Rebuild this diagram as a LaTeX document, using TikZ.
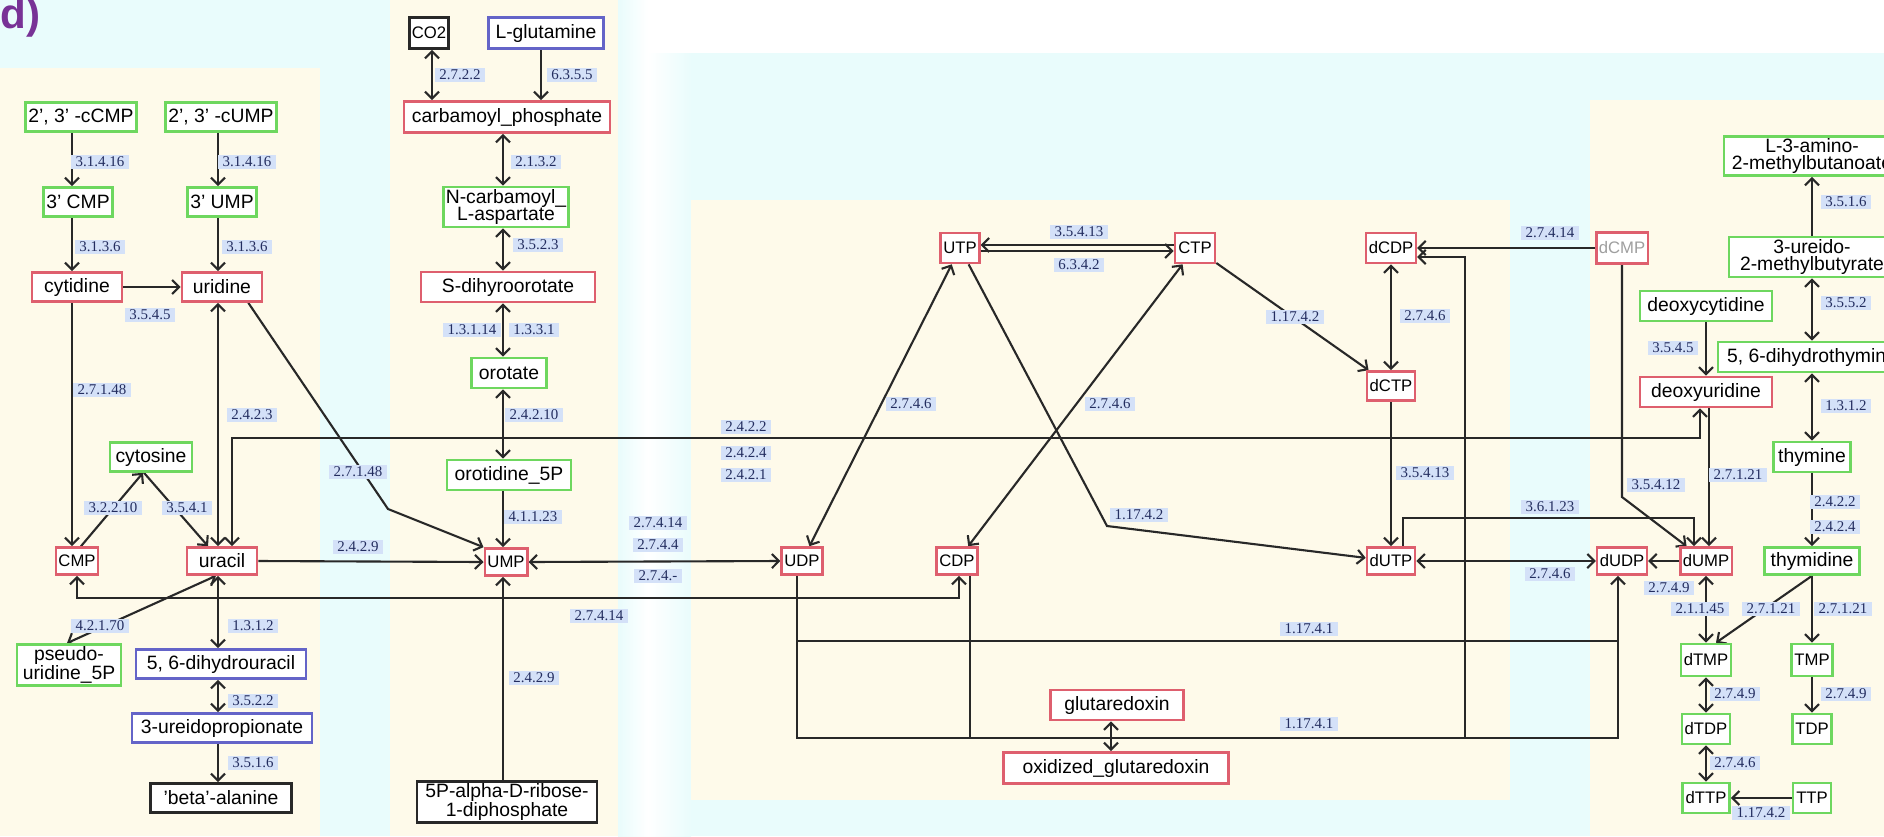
\documentclass[tikz,border=0pt]{standalone}
\usepackage{fontspec}
\setmainfont{Liberation Serif}
\setsansfont{Liberation Sans}
\usetikzlibrary{arrows.meta,calc}
\definecolor{cyanbg}{RGB}{233,252,252}
\definecolor{creambg}{RGB}{254,250,234}
\definecolor{redb}{RGB}{222,95,110}
\definecolor{greenb}{RGB}{110,215,95}
\definecolor{blueb}{RGB}{100,100,200}
\definecolor{blackb}{RGB}{40,40,40}
\definecolor{labbg}{RGB}{212,225,248}
\definecolor{labtx}{RGB}{35,45,95}
\definecolor{edgec}{RGB}{40,40,40}
\definecolor{titlec}{RGB}{120,50,150}
\pgfdeclarelayer{back}
\pgfdeclarelayer{edges}
\pgfsetlayers{back,edges,main}
\newcommand\eclab[3]{\node[lab] (#1) at (#2) {#3};}
\begin{document}
\begin{tikzpicture}[x=0.02cm,y=-0.02cm,
  nd/.style={draw, line width=1.5pt, fill=white, font=\sffamily\fontsize{11}{10}\selectfont, inner xsep=1.5pt, inner ysep=1pt, minimum height=0.58cm, align=center},
  sm/.style={font=\sffamily\fontsize{9.5}{10}\selectfont},
  rbox/.style={nd, draw=redb},
  gbox/.style={nd, draw=greenb},
  bbox/.style={nd, draw=blueb},
  kbox/.style={nd, draw=blackb},
  wd/.style={minimum width=#1*0.02cm},
  ht/.style={minimum height=#1*0.02cm},
  lab/.style={fill=labbg, text=labtx, font=\rmfamily\fontsize{8.5}{9}\selectfont, inner xsep=2.5pt, inner ysep=1pt, text height=5.8pt, text depth=0.3pt},
  ln/.style={draw=edgec, line width=1.2pt},
  arr/.style={ln, -{Straight Barb[length=4pt,width=8pt]}},
  barr/.style={ln, {Straight Barb[length=4pt,width=8pt]}-{Straight Barb[length=4pt,width=8pt]}},
]
\useasboundingbox (0,0) rectangle (1884,836);
\clip (0,0) rectangle (1884,836);
\begin{pgfonlayer}{back}
\fill[cyanbg] (0,0) rectangle (1884,836);
\shade[left color=cyanbg,right color=white] (618,0) rectangle (648,836);
\shade[left color=white,right color=cyanbg] (648,0) rectangle (691,836);
\fill[white] (648,0) rectangle (1884,53);
\fill[creambg] (0,68) rectangle (320,836);
\fill[creambg] (390,0) rectangle (618,836);
\fill[creambg] (691,200) rectangle (1510,800);
\fill[creambg] (1590,100) rectangle (1884,836);
\end{pgfonlayer}

\node[font=\sffamily\bfseries\fontsize{24}{24}\selectfont, text=titlec, anchor=base west, inner sep=0] (title) at (0,28) {d)};

% left panel
\node[gbox,wd=96] (cCMP) at (81,117) {2', 3' -cCMP};
\node[gbox,wd=105] (cUMP) at (221,117) {2', 3' -cUMP};
\node[gbox,wd=58] (CMP3) at (78,202) {3' CMP};
\node[gbox,wd=60] (UMP3) at (222,202) {3' UMP};
\node[rbox,wd=90] (cytidine) at (77,287) {cytidine};
\node[rbox,wd=80] (uridine) at (222,287) {uridine};
\node[gbox,wd=82] (cytosine) at (151,457) {cytosine};
\node[rbox,sm,wd=40,ht=27] (CMP) at (77,561) {CMP};
\node[rbox,wd=70,ht=27] (uracil) at (222,561) {uracil};
\node[gbox,wd=104,ht=39] (pseudo) at (69,665) {pseudo-\\uridine\_5P};
\node[bbox,wd=170] (dihydrouracil) at (221,664) {5, 6-dihydrouracil};
\node[bbox,wd=180] (ureidoprop) at (222,728) {3-ureidopropionate};
\node[kbox,wd=141] (betaala) at (221,798) {'beta'-alanine};

% middle column
\node[kbox,sm,wd=39,ht=31] (CO2) at (429,33) {CO2};
\node[bbox,wd=115,ht=31] (glutamine) at (546,33) {L-glutamine};
\node[rbox,wd=206,ht=31] (carbp) at (507,117) {carbamoyl\_phosphate};
\node[gbox,wd=123,ht=40] (ncarb) at (506,207) {N-carbamoyl\_\\L-aspartate};
\node[rbox,wd=174,ht=30] (sdihy) at (508,287) {S-dihyroorotate};
\node[gbox,wd=75,ht=30] (orotate) at (509,373) {orotate};
\node[gbox,wd=124,ht=30] (orotidine) at (509,475) {orotidine\_5P};
\node[rbox,sm,wd=40,ht=27] (UMP) at (506,562) {UMP};
\node[kbox,wd=180,ht=38] (prpp) at (507,802) {5P-alpha-D-ribose-\\1-diphosphate};

% central panel
\node[rbox,sm,wd=38,ht=30] (UTP) at (960,248) {UTP};
\node[rbox,sm,wd=40,ht=30] (CTP) at (1195,248) {CTP};
\node[rbox,sm,wd=40,ht=27] (UDP) at (802,561) {UDP};
\node[rbox,sm,wd=39,ht=27] (CDP) at (957,561) {CDP};
\node[rbox,sm,wd=48,ht=30] (dCDP) at (1391,248) {dCDP};
\node[rbox,sm,wd=46,ht=29] (dCTP) at (1391,386) {dCTP};
\node[rbox,sm,wd=48,ht=27] (dUTP) at (1391,561) {dUTP};
\node[rbox,wd=133,ht=30] (glut) at (1117,705) {glutaredoxin};
\node[rbox,wd=225,ht=31] (oxglut) at (1116,768) {oxidized\_glutaredoxin};
\node[rbox,sm,wd=49,ht=31,text=gray!75] (dCMP) at (1622,248) {dCMP};
\node[rbox,sm,wd=48,ht=27] (dUDP) at (1622,561) {dUDP};
\node[rbox,sm,wd=47,ht=27] (dUMP) at (1706,561) {dUMP};
\node[gbox,wd=132,ht=30] (deoxycytidine) at (1706,306) {deoxycytidine};
\node[rbox,wd=132,ht=30] (deoxyuridine) at (1706,392) {deoxyuridine};

% right panel
\node[gbox,wd=176,ht=38] (L3amino) at (1812,156) {L-3-amino-\\2-methylbutanoate};
\node[gbox,wd=166,ht=40] (ureido2) at (1812,257) {3-ureido-\\2-methylbutyrate};
\node[gbox,wd=188,ht=30] (dhthym) at (1812,357) {5, 6-dihydrothymine};
\node[gbox,wd=77,ht=30] (thymine) at (1812,457) {thymine};
\node[gbox,wd=95,ht=27] (thymidine) at (1812,561) {thymidine};
\node[gbox,sm,wd=47,ht=32] (dTMP) at (1706,660) {dTMP};
\node[gbox,sm,wd=38,ht=32] (TMP) at (1812,660) {TMP};
\node[gbox,sm,wd=47,ht=30] (dTDP) at (1706,729) {dTDP};
\node[gbox,sm,wd=38,ht=30] (TDP) at (1812,729) {TDP};
\node[gbox,sm,wd=47,ht=30] (dTTP) at (1706,798) {dTTP};
\node[gbox,sm,wd=38,ht=30] (TTP) at (1812,798) {TTP};

\begin{pgfonlayer}{edges}
\coordinate (colA) at (72,0);
\coordinate (colB) at (218,0);
\coordinate (colCO) at (432,0);
\coordinate (colGl) at (541,0);
\coordinate (colC) at (503,0);
\coordinate (colG) at (1111,0);
\coordinate (colU) at (797,0);
\coordinate (colDU) at (1618,0);
\coordinate (colDx) at (1709,0);
\coordinate (r641) at (0,641);
\coordinate (r738) at (0,738);
\coordinate (h1) at (232,438);
\coordinate (h2) at (1700,438);
\coordinate (h3) at (0,598);
\coordinate (bd1) at (388,509);
\coordinate (bd2) at (1107,526);
\coordinate (bd3) at (1622,497);
\coordinate (k1) at (1465,738);
\coordinate (k2) at (1465,257);
\coordinate (e1) at (1403,518);
\coordinate (e2) at (1694,518);
% left
\draw[arr] (cCMP.south -| colA) -- (CMP3.north -| colA);
\draw[arr] (CMP3.south -| colA) -- (cytidine.north -| colA);
\draw[arr] (cytidine.south -| colA) -- (CMP.north -| colA);
\draw[arr] (cUMP.south -| colB) -- (UMP3.north -| colB);
\draw[arr] (UMP3.south -| colB) -- (uridine.north -| colB);
\draw[arr] (cytidine.east) -- (uridine.west);
\draw[barr] (uridine.south -| colB) -- (uracil.north -| colB);
\draw[arr] ($(CMP.north)+(4,0)$) -- ($(cytosine.south)+(-8,0)$);
\draw[arr] ($(cytosine.south)+(-7,0)$) -- ($(uracil.north)+(-14,0)$);
\draw[arr] ($(uridine.south east)+(-15,0)$) -- (bd1) -- (UMP.north west);
\draw[arr] (uracil.east) -- (UMP.west);
\draw[barr] (uracil.north -| h1) -- (h1) -- (h2) -- (deoxyuridine.south -| h2);
\draw[barr] (CMP.south) -- (CMP.south |- h3) -- ($(CDP.south |- h3)+(2,0)$) -- ($(CDP.south)+(2,0)$);
\draw[barr] ($(uracil.south)+(-6,0)$) -- ($(pseudo.north)+(-2,0)$);
\draw[barr] (uracil.south -| colB) -- (dihydrouracil.north -| colB);
\draw[barr] (dihydrouracil.south -| colB) -- (ureidoprop.north -| colB);
\draw[arr] (ureidoprop.south -| colB) -- (betaala.north -| colB);
% middle
\draw[barr] (CO2.south -| colCO) -- (carbp.north -| colCO);
\draw[arr] (glutamine.south -| colGl) -- (carbp.north -| colGl);
\draw[barr] (carbp.south -| colC) -- (ncarb.north -| colC);
\draw[barr] (ncarb.south -| colC) -- (sdihy.north -| colC);
\draw[barr] (sdihy.south -| colC) -- (orotate.north -| colC);
\draw[barr] (orotate.south -| colC) -- (orotidine.north -| colC);
\draw[arr] (orotidine.south -| colC) -- (UMP.north -| colC);
\draw[arr] (prpp.north -| colC) -- (UMP.south -| colC);
\draw[barr] (UMP.east) -- (UDP.west);
% central
\draw[arr] ($(CTP.west)+(0,-3)$) -- ($(UTP.east)+(0,-3)$);
\draw[arr] ($(UTP.east)+(0,3)$) -- ($(CTP.west)+(0,3)$);
\draw[barr] (UTP) -- (UDP);
\draw[barr] (CTP) -- (CDP);
\draw[arr] (UTP) -- (bd2) -- (dUTP);
\draw[arr] (CTP) -- (dCTP);
\draw[barr] (dCDP) -- (dCTP);
\draw[arr] (dCTP) -- (dUTP);
\draw[arr] (dCMP) -- (dCDP);
\draw[arr] (k1) -- (k2) -- (dCDP.east |- k2);
\draw[arr] (dCMP.south) -- (bd3) -- (dUMP);
\draw[barr] (dUTP) -- (dUDP);
\draw[arr] (dUMP) -- (dUDP);
\draw[arr] (dUTP.north -| e1) -- (e1) -- (e2) -- (dUMP.north -| e2);
\draw[arr] (deoxyuridine.south -| colDx) -- (dUMP.north -| colDx);
\draw[arr] (deoxycytidine) -- (deoxyuridine);
\draw[arr] (UDP.south -| colU) -- (colU |- r738) -- (colDU |- r738) -- (dUDP.south -| colDU);
\draw[ln] (colU |- r641) -- (colDU |- r641);
\draw[ln] ($(CDP.south)+(13,0)$) -- ($(CDP.south |- r738)+(13,0)$);
\draw[barr] (glut.south -| colG) -- (oxglut.north -| colG);
% right
\draw[arr] (ureido2) -- (L3amino);
\draw[barr] (ureido2) -- (dhthym);
\draw[barr] (dhthym) -- (thymine);
\draw[arr] (thymine) -- (thymidine);
\draw[arr] (thymidine.south) -- ($(dTMP.north)+(10,0)$);
\draw[arr] (thymidine) -- (TMP);
\draw[barr] (dUMP) -- (dTMP);
\draw[barr] (dTMP) -- (dTDP);
\draw[arr] (TMP) -- (TDP);
\draw[barr] (dTDP) -- (dTTP);
\draw[arr] (TTP) -- (dTTP);
\end{pgfonlayer}

% enzyme labels
\eclab{lb01}{100,162}{3.1.4.16}
\eclab{lb02}{247,162}{3.1.4.16}
\eclab{lb03}{100,247}{3.1.3.6}
\eclab{lb04}{247,247}{3.1.3.6}
\eclab{lb05}{150,315}{3.5.4.5}
\eclab{lb06}{102,390}{2.7.1.48}
\eclab{lb07}{252,415}{2.4.2.3}
\eclab{lb08}{113,508}{3.2.2.10}
\eclab{lb09}{187,508}{3.5.4.1}
\eclab{lb10}{358,472}{2.7.1.48}
\eclab{lb11}{358,547}{2.4.2.9}
\eclab{lb12}{746,427}{2.4.2.2}
\eclab{lb13}{746,453}{2.4.2.4}
\eclab{lb14}{746,475}{2.4.2.1}
\eclab{lb15}{599,616}{2.7.4.14}
\eclab{lb16}{100,626}{4.2.1.70}
\eclab{lb17}{253,626}{1.3.1.2}
\eclab{lb18}{253,701}{3.5.2.2}
\eclab{lb19}{253,763}{3.5.1.6}
\eclab{lb20}{460,75}{2.7.2.2}
\eclab{lb21}{572,75}{6.3.5.5}
\eclab{lb22}{536,162}{2.1.3.2}
\eclab{lb23}{538,245}{3.5.2.3}
\eclab{lb24}{472,330}{1.3.1.14}
\eclab{lb25}{534,330}{1.3.3.1}
\eclab{lb26}{534,415}{2.4.2.10}
\eclab{lb27}{533,517}{4.1.1.23}
\eclab{lb28}{534,678}{2.4.2.9}
\eclab{lb29}{658,523}{2.7.4.14}
\eclab{lb30}{658,545}{2.7.4.4}
\eclab{lb31}{658,576}{2.7.4.-}
\eclab{lb32}{911,404}{2.7.4.6}
\eclab{lb33}{1110,404}{2.7.4.6}
\eclab{lb34}{1079,232}{3.5.4.13}
\eclab{lb35}{1079,265}{6.3.4.2}
\eclab{lb36}{1139,515}{1.17.4.2}
\eclab{lb37}{1295,317}{1.17.4.2}
\eclab{lb38}{1425,316}{2.7.4.6}
\eclab{lb39}{1425,473}{3.5.4.13}
\eclab{lb40}{1550,233}{2.7.4.14}
\eclab{lb41}{1656,485}{3.5.4.12}
\eclab{lb42}{1550,574}{2.7.4.6}
\eclab{lb43}{1550,507}{3.6.1.23}
\eclab{lb44}{1738,475}{2.7.1.21}
\eclab{lb45}{1673,348}{3.5.4.5}
\eclab{lb46}{1309,629}{1.17.4.1}
\eclab{lb47}{1309,724}{1.17.4.1}
\eclab{lb48}{1846,202}{3.5.1.6}
\eclab{lb49}{1846,303}{3.5.5.2}
\eclab{lb50}{1846,406}{1.3.1.2}
\eclab{lb51}{1835,502}{2.4.2.2}
\eclab{lb52}{1835,527}{2.4.2.4}
\eclab{lb53}{1771,609}{2.7.1.21}
\eclab{lb54}{1843,609}{2.7.1.21}
\eclab{lb55}{1669,588}{2.7.4.9}
\eclab{lb56}{1700,609}{2.1.1.45}
\eclab{lb57}{1735,694}{2.7.4.9}
\eclab{lb58}{1846,694}{2.7.4.9}
\eclab{lb59}{1735,763}{2.7.4.6}
\eclab{lb60}{1761,813}{1.17.4.2}
\end{tikzpicture}
\end{document}
